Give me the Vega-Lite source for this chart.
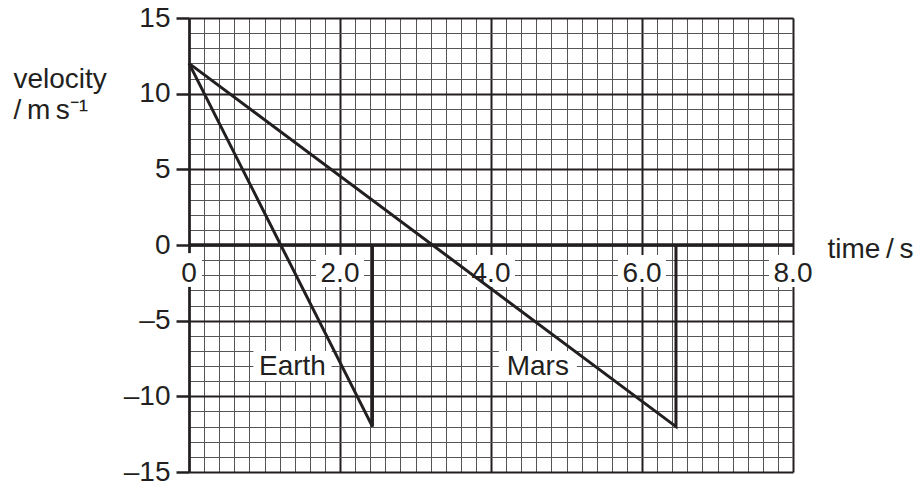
{
  "$schema": "https://vega.github.io/schema/vega-lite/v6.json",
  "autosize": "none",
  "width": 604,
  "height": 454,
  "padding": {"left": 189, "top": 18, "right": 123, "bottom": 14},
  "background": "white",
  "config": {"view": {"stroke": null}, "font": "Liberation Sans"},
  "resolve": {"axis": {"x": "independent", "y": "independent"}},
  "datasets": {
    "curves": [
      {"body": "Earth", "i": 0, "t": 0, "v": 12},
      {"body": "Earth", "i": 1, "t": 2.43, "v": -12},
      {"body": "Earth", "i": 2, "t": 2.43, "v": 0},
      {"body": "Mars", "i": 0, "t": 0, "v": 12},
      {"body": "Mars", "i": 1, "t": 6.45, "v": -12},
      {"body": "Mars", "i": 2, "t": 6.45, "v": 0}
    ],
    "names": [
      {"t": 1.37, "v": -8, "text": "Earth"},
      {"t": 4.62, "v": -8, "text": "Mars"}
    ],
    "xlabels": [
      {"t": 0, "text": "0"},
      {"t": 2, "text": "2.0"},
      {"t": 4, "text": "4.0"},
      {"t": 6, "text": "6.0"},
      {"t": 8, "text": "8.0"}
    ],
    "axisline": [{"v": 0}]
  },
  "layer": [
    {
      "data": {"name": "curves"},
      "mark": {"type": "line", "opacity": 0},
      "encoding": {
        "x": {
          "field": "t", "type": "quantitative",
          "scale": {"domain": [0, 8], "nice": false, "zero": false},
          "axis": {
            "values": [0,0.2,0.4,0.6,0.8,1,1.2,1.4,1.6,1.8,2,2.2,2.4,2.6,2.8,3,3.2,3.4,3.6,3.8,4,4.2,4.4,4.6,4.8,5,5.2,5.4,5.6,5.8,6,6.2,6.4,6.6,6.8,7,7.2,7.4,7.6,7.8,8],
            "grid": true,
            "gridColor": {"condition": {"test": "abs(datum.value % 2) < 0.001", "value": "#231f20"}, "value": "#555555"},
            "gridWidth": {"condition": {"test": "abs(datum.value % 2) < 0.001", "value": 2}, "value": 1},
            "labels": false, "ticks": false, "domain": false,
            "title": "time\u2009/\u2009s",
            "titleX": 638, "titleY": -215, "titleAlign": "left", "titleBaseline": "alphabetic", "titleAngle": 0,
            "titleFont": "Liberation Sans", "titleFontSize": 28, "titleFontWeight": "normal", "titleColor": "#231f20"
          }
        },
        "y": {
          "field": "v", "type": "quantitative",
          "scale": {"domain": [-15, 15], "nice": false, "zero": false},
          "axis": {
            "values": [-15,-14,-13,-12,-11,-10,-9,-8,-7,-6,-5,-4,-3,-2,-1,0,1,2,3,4,5,6,7,8,9,10,11,12,13,14,15],
            "grid": true,
            "gridColor": {"condition": {"test": "datum.value % 5 === 0", "value": "#231f20"}, "value": "#555555"},
            "gridWidth": {"condition": {"test": "datum.value % 5 === 0", "value": 2}, "value": 1},
            "domain": true, "domainColor": "#231f20", "domainWidth": 2.5,
            "ticks": true, "tickColor": "#231f20", "tickWidth": 2.5, "tickSize": 13,
            "tickOpacity": {"condition": {"test": "datum.value % 5 === 0", "value": 1}, "value": 0},
            "labelExpr": "datum.value % 5 !== 0 ? '' : (datum.value < 0 ? '\u2013' + abs(datum.value) : '' + datum.value)",
            "labelFont": "Liberation Sans", "labelFontSize": 28, "labelColor": "#231f20", "labelPadding": 6,
            "labelOverlap": false, "labelFlush": false, "labelBound": false,
            "title": ["velocity", "/\u2009m\u2009s\u207b\u00b9"],
            "titleX": -176, "titleY": 69, "titleAlign": "left", "titleBaseline": "alphabetic", "titleAngle": 0,
            "titleLineHeight": 31,
            "titleFont": "Liberation Sans", "titleFontSize": 28, "titleFontWeight": "normal", "titleColor": "#231f20"
          }
        }
      }
    },
    {
      "data": {"name": "axisline"},
      "mark": {"type": "rule", "color": "#231f20", "strokeWidth": 3.5},
      "encoding": {"y": {"field": "v", "type": "quantitative", "axis": null}}
    },
    {
      "data": {"name": "xlabels"},
      "transform": [{"filter": "datum.t > 0"}],
      "mark": {"type": "point", "shape": "M-1,-0.667H1V0.667H-1Z", "size": 2304, "filled": true, "color": "white", "opacity": 1, "strokeWidth": 0, "yOffset": 26},
      "encoding": {
        "x": {"field": "t", "type": "quantitative", "axis": null},
        "y": {"datum": 0, "type": "quantitative", "axis": null}
      }
    },
    {
      "data": {"name": "xlabels"},
      "transform": [{"filter": "datum.t == 0"}],
      "mark": {"type": "point", "shape": "M-1,-1.3H1V1.3H-1Z", "size": 676, "filled": true, "color": "white", "opacity": 1, "strokeWidth": 0, "yOffset": 25},
      "encoding": {
        "x": {"field": "t", "type": "quantitative", "axis": null},
        "y": {"datum": 0, "type": "quantitative", "axis": null}
      }
    },
    {
      "data": {"name": "names"},
      "mark": {"type": "point", "shape": "M-1,-0.385H1V0.385H-1Z", "size": 6084, "filled": true, "color": "white", "opacity": 1, "strokeWidth": 0},
      "encoding": {
        "x": {"field": "t", "type": "quantitative", "axis": null},
        "y": {"field": "v", "type": "quantitative", "axis": null}
      }
    },
    {
      "data": {"name": "xlabels"},
      "mark": {"type": "text", "font": "Liberation Sans", "fontSize": 28, "color": "#231f20", "align": "center", "baseline": "middle", "dy": 29},
      "encoding": {
        "x": {"field": "t", "type": "quantitative", "axis": null},
        "y": {"datum": 0, "type": "quantitative", "axis": null},
        "text": {"field": "text"}
      }
    },
    {
      "data": {"name": "names"},
      "mark": {"type": "text", "font": "Liberation Sans", "fontSize": 28, "color": "#231f20", "align": "center", "baseline": "middle", "dy": 1},
      "encoding": {
        "x": {"field": "t", "type": "quantitative", "axis": null},
        "y": {"field": "v", "type": "quantitative", "axis": null},
        "text": {"field": "text"}
      }
    },
    {
      "data": {"name": "curves"},
      "mark": {"type": "line", "color": "#231f20", "strokeWidth": 3, "strokeJoin": "miter", "strokeCap": "butt"},
      "encoding": {
        "x": {"field": "t", "type": "quantitative", "axis": null},
        "y": {"field": "v", "type": "quantitative", "axis": null},
        "detail": {"field": "body"},
        "order": {"field": "i"}
      }
    }
  ]
}
